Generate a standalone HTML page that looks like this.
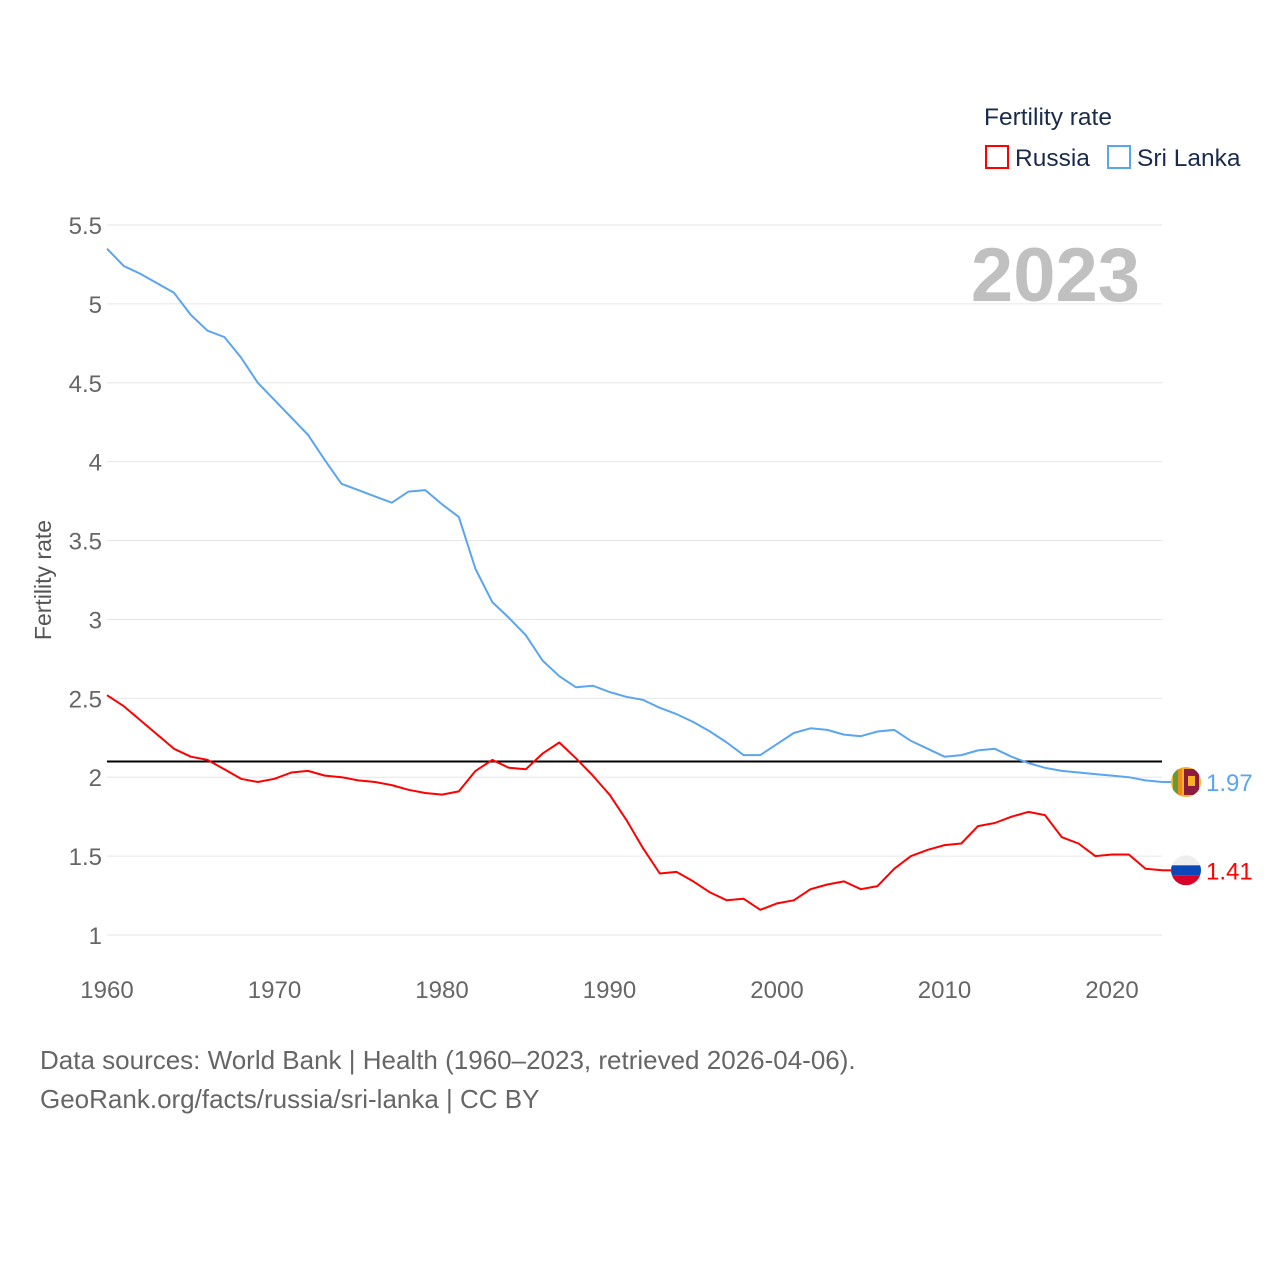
<!DOCTYPE html>
<html><head><meta charset="utf-8"><style>
html,body{margin:0;padding:0;background:#fff;}
svg{display:block;font-family:"Liberation Sans",sans-serif;}
</style></head><body>
<svg id="chart" width="1280" height="1280" viewBox="0 0 1280 1280">
  <text x="984" y="125" font-size="24.5" fill="#1a2b4a">Fertility rate</text>
  <g>
    <rect x="986" y="146" width="22" height="22" fill="none" stroke="#ff0000" stroke-width="2"/>
    <text x="1015" y="166" font-size="24.5" fill="#1a2b4a">Russia</text>
  </g>
  <g>
    <rect x="1108" y="146" width="22" height="22" fill="none" stroke="#5aa5ef" stroke-width="2"/>
    <text x="1137" y="166" font-size="24.5" fill="#1a2b4a">Sri Lanka</text>
  </g>
  <text x="1140" y="301" font-size="76" font-weight="bold" fill="#c0c0c0" text-anchor="end">2023</text>
  <text transform="translate(51,580) rotate(-90)" font-size="23" fill="#555" text-anchor="middle">Fertility rate</text>
  <g id="grid"></g>
  <g id="series"></g>
  <text x="40" y="1069" font-size="26" fill="#666">Data sources: World Bank | Health (1960–2023, retrieved 2026-04-06).</text>
  <text x="40" y="1108" font-size="26" fill="#666">GeoRank.org/facts/russia/sri-lanka | CC BY</text>
</svg>
<script>
const yTicks = [1, 1.5, 2, 2.5, 3, 3.5, 4, 4.5, 5, 5.5];
const xTicks = [1960, 1970, 1980, 1990, 2000, 2010, 2020];
const years = [];
for (let y = 1960; y <= 2023; y++) years.push(y);
const sriLanka = [5.35,5.24,5.19,5.13,5.07,4.93,4.83,4.79,4.66,4.50,4.39,4.28,4.17,4.01,3.86,3.82,3.78,3.74,3.81,3.82,3.73,3.65,3.32,3.11,3.01,2.90,2.74,2.64,2.57,2.58,2.54,2.51,2.49,2.44,2.40,2.35,2.29,2.22,2.14,2.14,2.21,2.28,2.31,2.30,2.27,2.26,2.29,2.30,2.23,2.18,2.13,2.14,2.17,2.18,2.13,2.09,2.06,2.04,2.03,2.02,2.01,2.00,1.98,1.97];
const russia = [2.52,2.45,2.36,2.27,2.18,2.13,2.11,2.05,1.99,1.97,1.99,2.03,2.04,2.01,2.00,1.98,1.97,1.95,1.92,1.90,1.89,1.91,2.04,2.11,2.06,2.05,2.15,2.22,2.12,2.01,1.89,1.73,1.55,1.39,1.40,1.34,1.27,1.22,1.23,1.16,1.20,1.22,1.29,1.32,1.34,1.29,1.31,1.42,1.50,1.54,1.57,1.58,1.69,1.71,1.75,1.78,1.76,1.62,1.58,1.50,1.51,1.51,1.42,1.41];
const refLine = [2.1];

const NS = "http://www.w3.org/2000/svg";
const X = yr => 107 + (yr - 1960) * (1005 / 60);
const Y = v => 935 - (v - 1) * (710 / 4.5);
function mk(tag, attrs, parent) {
  const e = document.createElementNS(NS, tag);
  for (const k in attrs) e.setAttribute(k, attrs[k]);
  parent.appendChild(e);
  return e;
}
const grid = document.getElementById('grid');
yTicks.forEach(t => {
  const l = mk('line', {x1: 107, x2: 1162, y1: Y(t), y2: Y(t), stroke: '#e6e6e6', 'stroke-width': 1}, grid);
  
  
  const tx = mk('text', {x: 102, y: Y(t) + 9, 'font-size': 24, fill: '#666', 'text-anchor': 'end'}, grid);
  tx.textContent = String(t);
  
  
});
xTicks.forEach(t => {
  const tx = mk('text', {x: X(t), y: 998, 'font-size': 24, fill: '#666', 'text-anchor': 'middle'}, grid);
  tx.textContent = String(t);
  
  
});
const s = document.getElementById('series');
const rl = mk('line', {x1: 107, x2: 1162, y1: Y(refLine[0]), y2: Y(refLine[0]), stroke: '#000', 'stroke-width': 2}, s);


function line(vals, color, name) {
  const d = vals.map((v, i) => (i ? 'L' : 'M') + X(years[i]).toFixed(1) + ',' + Y(v).toFixed(1)).join('');
  const p = mk('path', {d: d, fill: 'none', stroke: color, 'stroke-width': 2, 'stroke-linejoin': 'round'}, s);
  
  
}
line(sriLanka, '#5aa5ef', 'sri-lanka-line');
line(russia, '#ff0000', 'russia-line');

const lastSL = sriLanka[sriLanka.length - 1], lastRU = russia[russia.length - 1];
const cx = 1186;
const defs = mk('defs', {}, s);
const c1 = mk('clipPath', {id: 'clipSL'}, defs);
mk('circle', {cx: cx, cy: Y(lastSL), r: 15}, c1);
const c2 = mk('clipPath', {id: 'clipRU'}, defs);
mk('circle', {cx: cx, cy: Y(lastRU), r: 15}, c2);
mk('line', {x1: 1162, x2: 1171, y1: Y(lastSL), y2: Y(lastSL), stroke: '#5aa5ef', 'stroke-width': 2}, s);
mk('line', {x1: 1162, x2: 1171, y1: Y(lastRU), y2: Y(lastRU), stroke: '#ff0000', 'stroke-width': 2}, s);
const f1 = mk('g', {'clip-path': 'url(#clipSL)'}, s);


const sy = Y(lastSL);
mk('rect', {x: cx - 15, y: sy - 15, width: 30, height: 30, fill: '#f5b323'}, f1);
mk('rect', {x: cx - 13, y: sy - 13, width: 5, height: 26, fill: '#5f9c3d'}, f1);
mk('rect', {x: cx - 8, y: sy - 13, width: 4, height: 26, fill: '#f08a1c'}, f1);
mk('rect', {x: cx - 2, y: sy - 13, width: 15, height: 26, fill: '#8d1b3d'}, f1);
mk('rect', {x: cx + 2, y: sy - 6, width: 7, height: 10, fill: '#f5b323'}, f1);
const f2 = mk('g', {'clip-path': 'url(#clipRU)'}, s);


const ry = Y(lastRU);
mk('rect', {x: cx - 15, y: ry - 15, width: 30, height: 10, fill: '#eeeeee'}, f2);
mk('rect', {x: cx - 15, y: ry - 5, width: 30, height: 10, fill: '#0c47b7'}, f2);
mk('rect', {x: cx - 15, y: ry + 5, width: 30, height: 10, fill: '#d80027'}, f2);
const t1 = mk('text', {x: 1206, y: Y(lastSL) + 9, 'font-size': 24, fill: '#5aa5ef'}, s);
t1.textContent = lastSL.toFixed(2);


const t2 = mk('text', {x: 1206, y: Y(lastRU) + 9, 'font-size': 24, fill: '#ff0000'}, s);
t2.textContent = lastRU.toFixed(2);


</script>
</body></html>
